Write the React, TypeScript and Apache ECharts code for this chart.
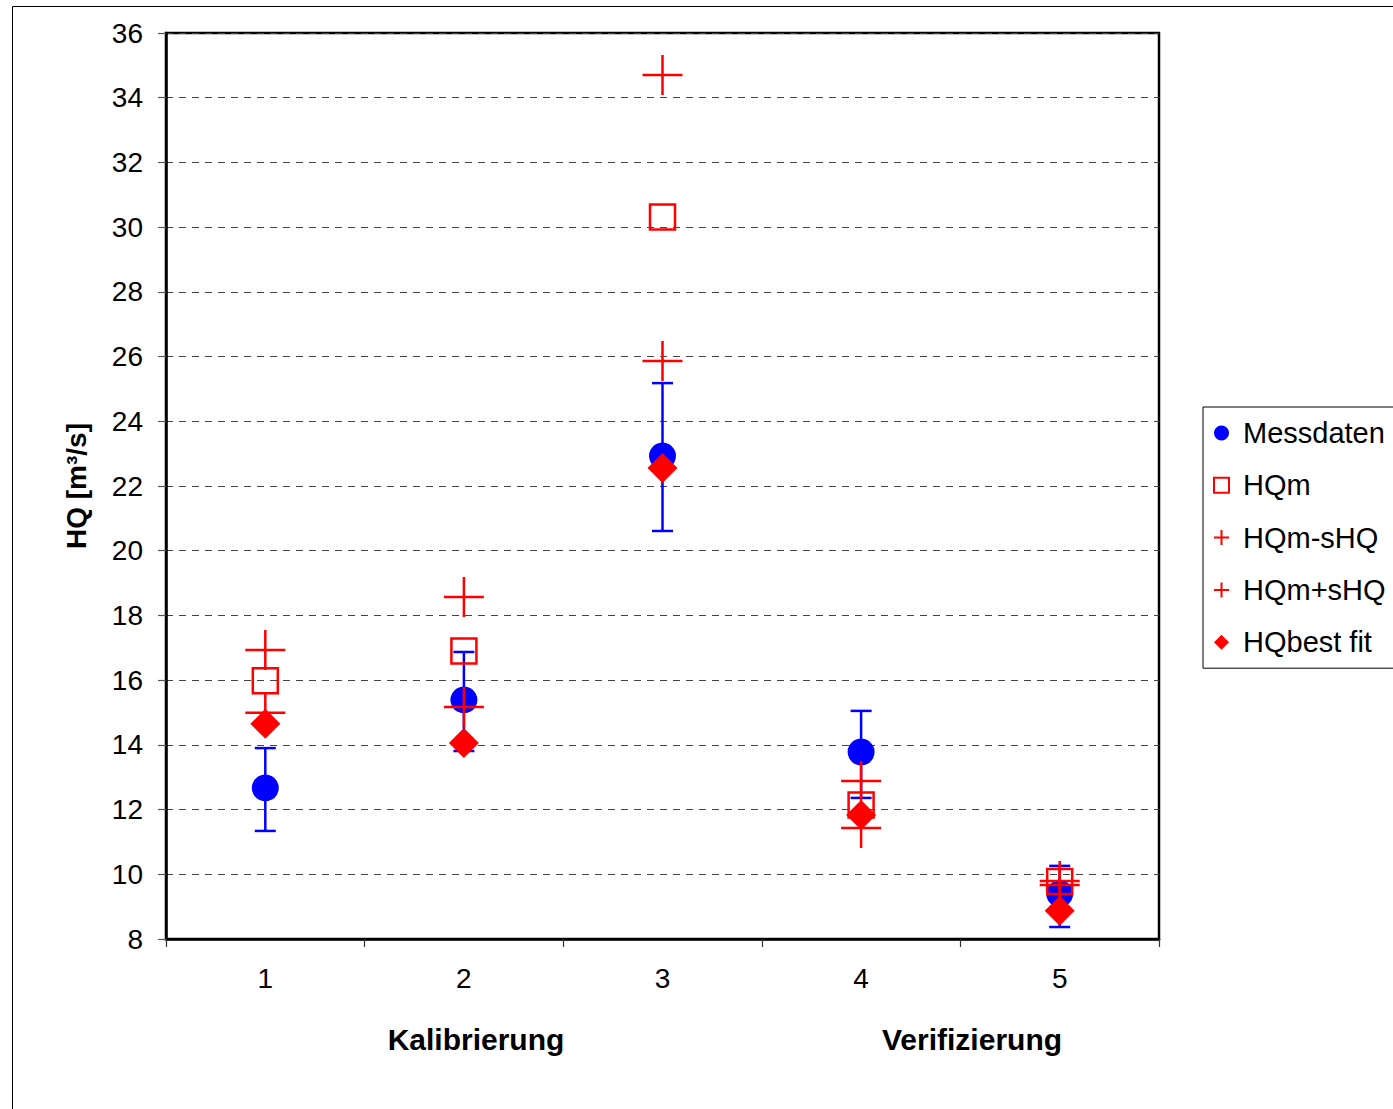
import React, { useEffect, useRef } from 'react';
import * as echarts from 'echarts';

const categories = ['1', '2', '3', '4', '5'];
const messdaten = [12.67, 15.39, 22.93, 13.78, 9.4];
const messLow = [11.34, 13.81, 20.61, 12.36, 8.37];
const messHigh = [13.9, 16.87, 25.18, 15.05, 10.26];
const hqm = [15.98, 16.9, 30.31, 12.14, 9.78];
const hqmMinus = [14.99, 15.17, 25.86, 11.43, 9.67];
const hqmPlus = [16.93, 18.57, 34.7, 12.88, 9.79];
const hqBest = [14.65, 14.06, 22.56, 11.83, 8.87];
const groupLabels = ['Kalibrierung', 'Verifizierung'];

const FONT = '"Liberation Sans", Arial, sans-serif';
const RED = '#ff0000';
const BLUE = '#0000ff';
const PLUS = 'path://M18.75,0 H21.25 V18.75 H40 V21.25 H21.25 V40 H18.75 V21.25 H0 V18.75 H18.75 Z';
const PLUS_ICON = 'path://M13,0 H17 V13 H30 V17 H17 V30 H13 V17 H0 V13 H13 Z';

export default function App() {
  const ref = useRef<HTMLDivElement>(null);
  useEffect(() => {
    const chart = echarts.init(ref.current!, null, { renderer: 'svg' });
    const option: any = {
      animation: false,
      backgroundColor: '#fff',
      grid: {
        left: 166,
        top: 33,
        width: 993,
        height: 906,
        show: true,
        borderColor: '#000',
        borderWidth: 2.5,
        backgroundColor: 'transparent',
      },
      legend: {
        orient: 'vertical',
        left: 1203,
        top: 407,
        padding: [11, 20, 11, 10],
        itemWidth: 15,
        itemHeight: 15,
        itemGap: 22.3,
        borderColor: '#000',
        borderWidth: 1,
        backgroundColor: '#fff',
        textStyle: { fontSize: 29, fontFamily: FONT, color: '#000', padding: [0, 0, 0, 9], lineHeight: 30 },
        data: [
          { name: 'Messdaten' },
          { name: 'HQm' },
          { name: 'HQm-sHQ', icon: PLUS_ICON },
          { name: 'HQm+sHQ', icon: PLUS_ICON },
          { name: 'HQbest fit' },
        ],
      },
      xAxis: {
        type: 'category',
        data: categories,
        boundaryGap: true,
        axisLine: { show: true, lineStyle: { color: '#000', width: 2.5 } },
        axisTick: { show: true, length: 8, alignWithLabel: false, lineStyle: { color: '#333', width: 1.2 } },
        axisLabel: { fontSize: 28, fontFamily: FONT, color: '#000', margin: 25 },
        splitLine: { show: false },
      },
      yAxis: {
        type: 'value',
        min: 8,
        max: 36,
        interval: 2,
        name: 'HQ [m³/s]',
        nameLocation: 'middle',
        nameGap: 76,
        nameTextStyle: { fontSize: 28, fontWeight: 'bold', fontFamily: FONT, color: '#000' },
        axisLine: { show: true, lineStyle: { color: '#000', width: 2.5 } },
        axisTick: { show: true, length: 8, lineStyle: { color: '#555', width: 1.2 } },
        axisLabel: { fontSize: 28, fontFamily: FONT, color: '#000', margin: 23 },
        splitLine: { show: true, lineStyle: { color: '#444', width: 1.2, type: [7, 6] } },
      },
      graphic: [
        {
          type: 'rect',
          silent: true,
          z: -10,
          shape: { x: 12.5, y: 6.5, width: 1600, height: 1300 },
          style: { fill: 'none', stroke: '#000', lineWidth: 1 },
        },
        {
          type: 'text',
          x: 476,
          y: 1039,
          style: { text: groupLabels[0], fontSize: 30, fontWeight: 'bold', fontFamily: FONT, fill: '#000', align: 'center', verticalAlign: 'middle' },
        },
        {
          type: 'text',
          x: 972,
          y: 1039,
          style: { text: groupLabels[1], fontSize: 30, fontWeight: 'bold', fontFamily: FONT, fill: '#000', align: 'center', verticalAlign: 'middle' },
        },
      ],
      series: [
        {
          name: 'Messdaten Fehler',
          type: 'custom',
          encode: { x: 0, y: [1, 2] },
          data: categories.map((c, i) => [i, messLow[i], messHigh[i]]),
          renderItem: (params: any, api: any) => {
            const x = api.value(0);
            const lo = api.coord([x, api.value(1)]);
            const hi = api.coord([x, api.value(2)]);
            const w = 10.5;
            const style = { stroke: BLUE, lineWidth: 2.5 };
            return {
              type: 'group',
              children: [
                { type: 'line', shape: { x1: hi[0], y1: hi[1], x2: lo[0], y2: lo[1] }, style },
                { type: 'line', shape: { x1: hi[0] - w, y1: hi[1], x2: hi[0] + w, y2: hi[1] }, style },
                { type: 'line', shape: { x1: lo[0] - w, y1: lo[1], x2: lo[0] + w, y2: lo[1] }, style },
              ],
            };
          },
        },
        {
          name: 'Messdaten',
          type: 'scatter',
          symbol: 'circle',
          symbolSize: 27,
          itemStyle: { color: BLUE, opacity: 1 },
          data: messdaten,
        },
        {
          name: 'HQm',
          type: 'scatter',
          symbol: 'rect',
          symbolSize: 25,
          itemStyle: { color: 'rgba(255,255,255,0)', borderColor: RED, borderWidth: 2.5, opacity: 1 },
          data: hqm,
        },
        {
          name: 'HQm-sHQ',
          type: 'scatter',
          symbol: PLUS,
          symbolSize: 40,
          itemStyle: { color: RED, opacity: 1 },
          data: hqmMinus,
        },
        {
          name: 'HQm+sHQ',
          type: 'scatter',
          symbol: PLUS,
          symbolSize: 40,
          itemStyle: { color: RED, opacity: 1 },
          data: hqmPlus,
        },
        {
          name: 'HQbest fit',
          type: 'scatter',
          symbol: 'diamond',
          symbolSize: 30,
          itemStyle: { color: RED, opacity: 1 },
          data: hqBest,
        },
      ],
    };
    chart.setOption(option);
    return () => chart.dispose();
  }, []);
  return (
    <div
      ref={ref}
      style={{ position: 'fixed', left: 0, top: 0, width: 1393, height: 1109, background: '#fff' }}
    />
  );
}
